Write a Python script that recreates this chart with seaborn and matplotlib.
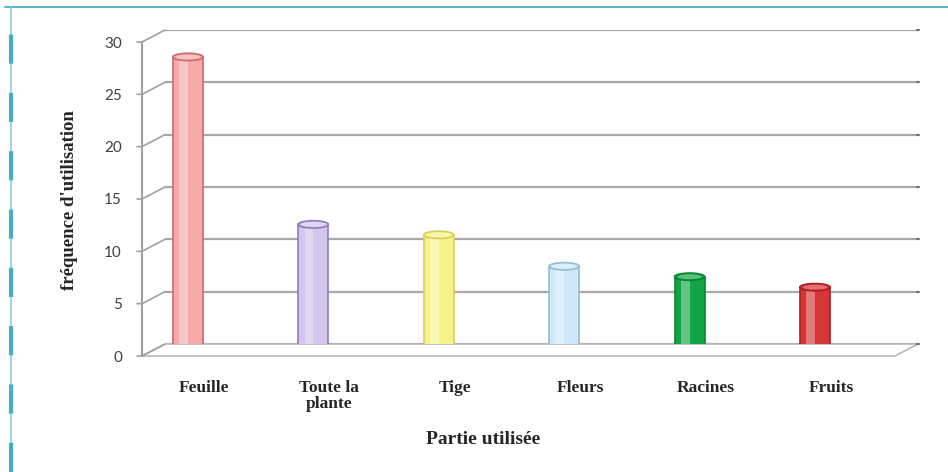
import numpy as np
import pandas as pd
import matplotlib
matplotlib.use('Agg')
import matplotlib.pyplot as plt
import seaborn as sns
from matplotlib.patches import Ellipse, Polygon
from matplotlib.lines import Line2D
from matplotlib.transforms import ScaledTranslation

# Data
parties = ['Feuille', 'Toute la\nplante', 'Tige', 'Fleurs', 'Racines', 'Fruits']
frequences = [28, 12, 11, 8, 7, 6]
couleurs = ['#f4aaaa', '#d2c6ec', '#f6f28a', '#cde9f8', '#12a545', '#d73535']
bords = ['#d06a6a', '#8e7cbc', '#d6cf5c', '#93bcd6', '#0b8533', '#a82020']
yticks = [0, 5, 10, 15, 20, 25, 30]

df = pd.DataFrame({'partie': parties, 'freq': frequences})

sns.set_style('white')
plt.rcParams['font.family'] = ['Liberation Serif', 'DejaVu Serif']

fig = plt.figure(figsize=(9.48, 4.72), dpi=100)
W, H = 948, 472
# back plane of the pseudo-3D box (pixels)
left, right, top, bottom = 165, 918, 30, 344
ax = fig.add_axes([left / W, 1 - bottom / H, (right - left) / W, (bottom - top) / H])

BAR_W = 0.24
sns.barplot(data=df, x='partie', y='freq', hue='partie', palette=couleurs,
            width=BAR_W, legend=False, ax=ax, saturation=1, zorder=3)

x0, x1 = -0.183, 5.821
ax.set_xlim(x0, x1)
ax.set_ylim(0, 30)

# depth offset between back plane and front (in data units)
px_x = (right - left) / (x1 - x0)
px_y = (bottom - top) / 30
DX, DY = 23 / px_x, 12 / px_y

mid = ax.transData + ScaledTranslation(0, -0.06, fig.dpi_scale_trans)

# bars: edges, highlight, cylinder caps and shadow
bars = list(ax.patches)
for p, ec in zip(bars, bords):
    p.set_edgecolor(ec)
    p.set_linewidth(1.2)
    p.set_transform(mid)
for i, (v, c, ec) in enumerate(zip(frequences, couleurs, bords)):
    ax.bar(i - 0.035, v, width=0.07, color='white', alpha=0.35, zorder=4,
           transform=mid, linewidth=0)
    ax.add_patch(Ellipse((i + 0.12, 0), BAR_W * 1.9, 0.9, color='#9a9a9a',
                         alpha=0.35, zorder=2, transform=mid, lw=0))
    ax.add_patch(Ellipse((i, 0), BAR_W, 0.7, facecolor=c, edgecolor=ec,
                         zorder=3, transform=mid, lw=1.2))
    ax.add_patch(Ellipse((i, v), BAR_W, 0.7, facecolor=c, edgecolor=ec,
                         zorder=5, transform=mid, lw=1.2))
    ax.add_patch(Ellipse((i, v), BAR_W * 0.8, 0.45, facecolor='white', alpha=0.3,
                         zorder=6, transform=mid, lw=0))

# back gridlines
ax.set_yticks(yticks)
ax.yaxis.grid(True, color='#a8a8a8', linewidth=1.6, zorder=0)
ax.set_axisbelow(True)
for s in ax.spines.values():
    s.set_visible(False)

# floor
floor = Polygon([(x0 - DX, -DY), (x1 - DX, -DY), (x1, 0), (x0, 0)], closed=True,
                facecolor='white', edgecolor='#b8b8b8', lw=1.2, zorder=1, clip_on=False)
ax.add_patch(floor)

# front axis with slanted connectors
ax.plot([x0 - DX, x0 - DX], [-DY, 30 - DY], color='#a0a0a0', lw=1.5, clip_on=False, zorder=2)
for t in yticks:
    ax.plot([x0 - DX - 0.04, x0 - DX, x0], [t - DY, t - DY, t], color='#a0a0a0',
            lw=1.2, clip_on=False, zorder=2)
    ax.plot([x1 - 0.01, x1 + 0.01], [t, t], color='#707070', lw=1.5, clip_on=False)

# tick labels
ax.tick_params(axis='y', length=0, pad=31, labelsize=11, labelcolor='#404040')
for lab in ax.get_yticklabels():
    lab.set_family(['Lato', 'DejaVu Sans'])
    lab.set_transform(lab.get_transform() + ScaledTranslation(0, -0.12, fig.dpi_scale_trans))

ax.set_xticks(range(len(parties)))
ax.set_xticklabels(parties, fontsize=12.5, fontweight='bold', linespacing=1.0)
ax.tick_params(axis='x', length=0, pad=26)
for lab in ax.get_xticklabels():
    lab.set_verticalalignment('top')
    lab.set_transform(lab.get_transform() + ScaledTranslation(0.16, 0, fig.dpi_scale_trans))

ax.set_xlabel('Partie utilisée', fontsize=14, fontweight='bold', labelpad=0)
ax.xaxis.set_label_coords((483 - left) / (right - left), (bottom - 440) / (bottom - top))
ax.xaxis.label.set_verticalalignment('center')
ax.set_ylabel("fréquence d'utilisation", fontsize=13.5, fontweight='bold')
ax.yaxis.set_label_coords((70 - left) / (right - left), (bottom - 200) / (bottom - top))
ax.yaxis.label.set_verticalalignment('center')

# page frame lines (cyan)
fig.add_artist(Line2D([0.005, 1.0], [1 - 7 / H, 1 - 7 / H], color='#5ab8cc', lw=1.5))
fig.add_artist(Line2D([11 / W, 11 / W], [0, 1 - 7 / H], color='#8cd0de', lw=1.2))
fig.add_artist(Line2D([11 / W, 11 / W], [0, 1 - 7 / H], color='#45aec6', lw=3,
                      dashes=(7, 7)))

fig.savefig('out.png', dpi=100, facecolor='white')
